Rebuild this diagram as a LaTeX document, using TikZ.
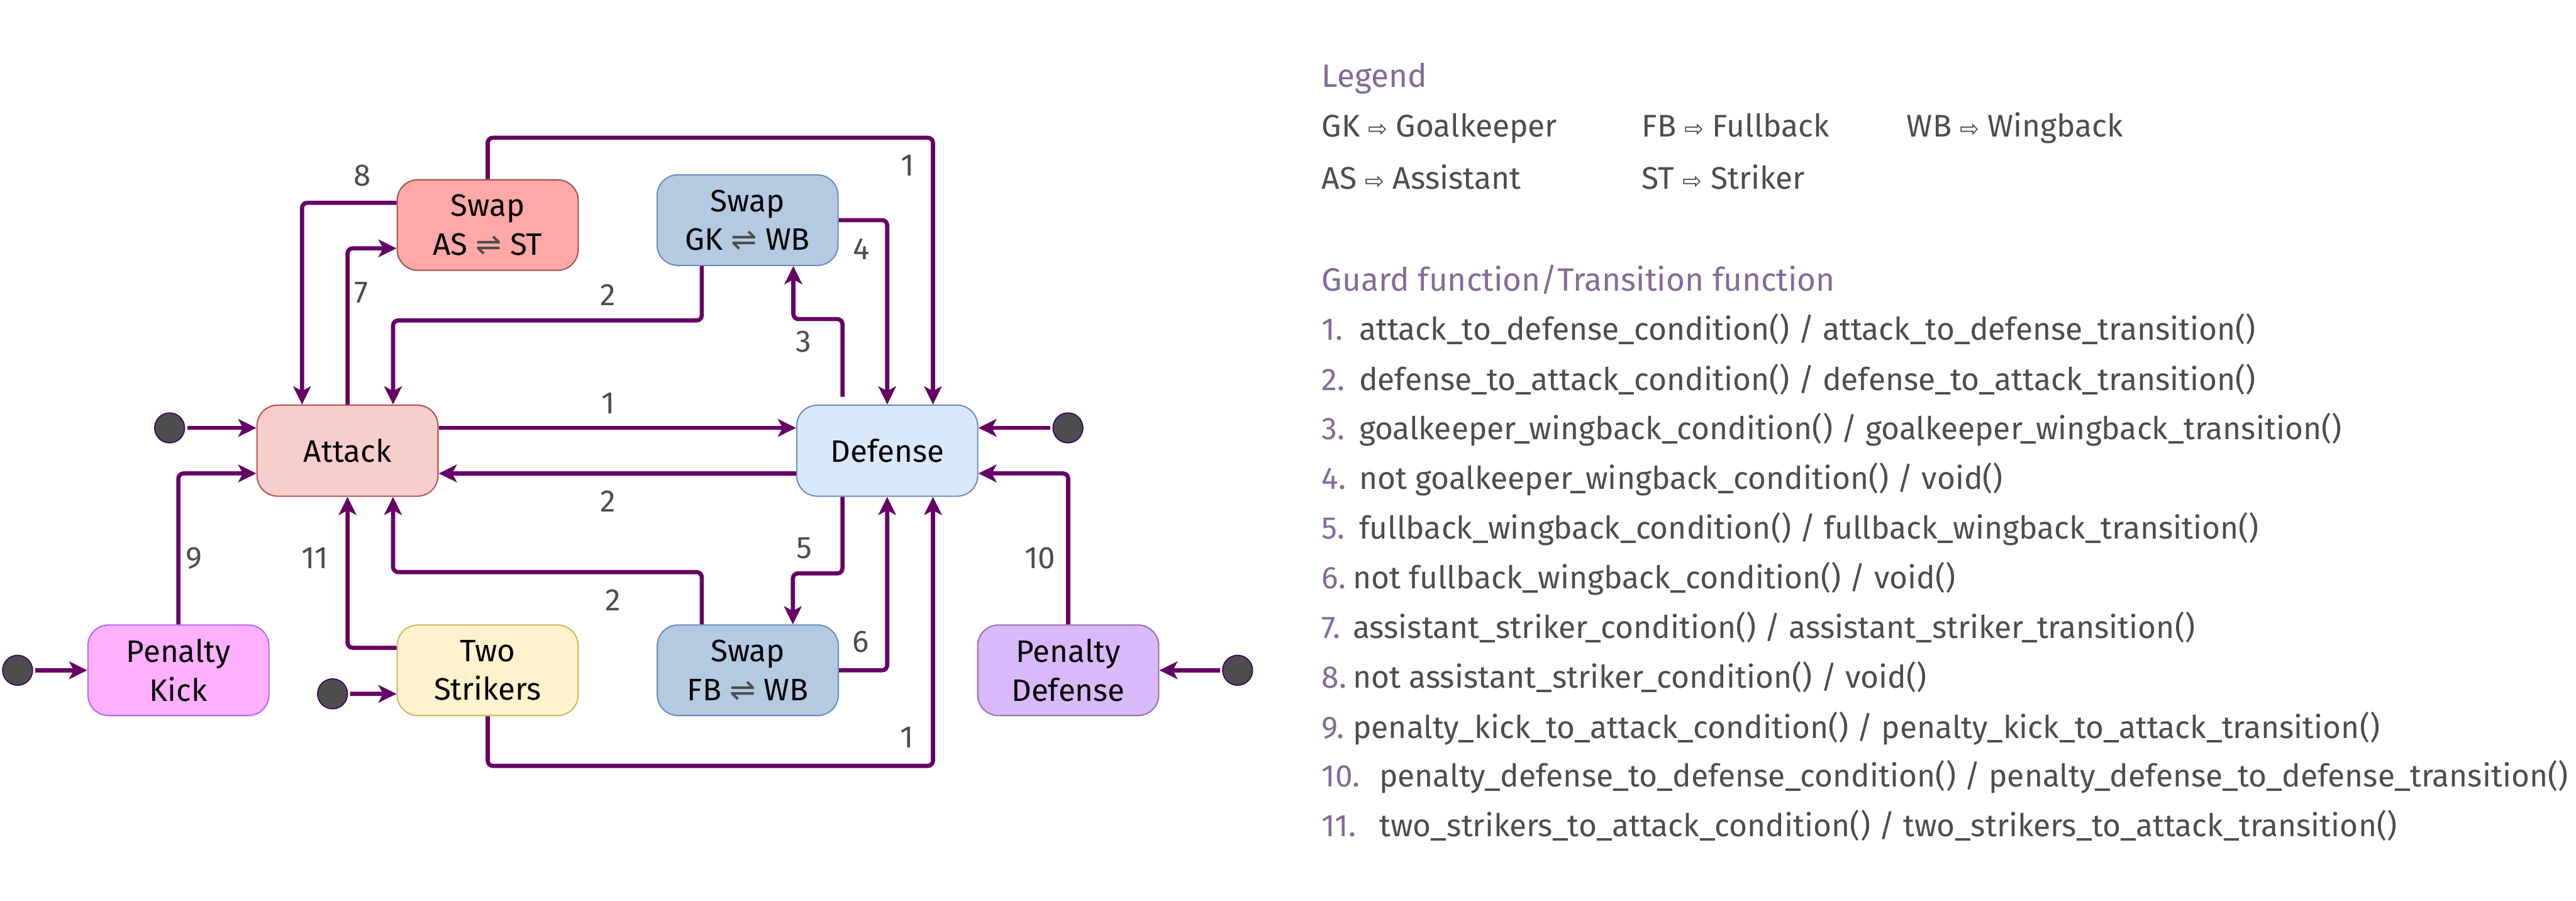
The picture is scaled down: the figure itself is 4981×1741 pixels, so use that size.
\documentclass[tikz,border=0pt]{standalone}
\usepackage{fontspec}
\setmainfont{Fira Sans}
\newfontfamily\symf{DejaVu Sans}
\usetikzlibrary{arrows.meta,calc}
\definecolor{arrowc}{HTML}{660066}
\definecolor{labelc}{HTML}{4D4D4D}
\definecolor{headc}{HTML}{866A98}
\definecolor{dotc}{HTML}{4D4D4D}
\definecolor{dotb}{HTML}{330066}
\definecolor{attackf}{HTML}{F8CECC}
\definecolor{attackd}{HTML}{B85450}
\definecolor{swapasf}{HTML}{FFA8A8}
\definecolor{swapasd}{HTML}{A65353}
\definecolor{defensef}{HTML}{DAE8FC}
\definecolor{blued}{HTML}{6C8EBF}
\definecolor{swapbf}{HTML}{B3CAE1}
\definecolor{twof}{HTML}{FFF2CC}
\definecolor{twod}{HTML}{D6B656}
\definecolor{pkf}{HTML}{FFB0FF}
\definecolor{pkd}{HTML}{B266FF}
\definecolor{pdfill}{HTML}{DAB9FB}
\definecolor{pdd}{HTML}{9673A6}
\tikzset{
  statebox/.style={draw, rounded corners=8pt, minimum width=70pt, minimum height=35pt,
    align=center, inner sep=0pt, line width=0.5pt, text=black,
    font=\fontsize{12}{15}\selectfont},
  conn/.style={draw=arrowc, line width=1.6pt, rounded corners=2pt,
    -{Stealth[length=7pt,width=6.8pt,inset=1.8pt]}},
  initconn/.style={conn, shorten <=0.8pt},
  lbl/.style={text=labelc, inner sep=0pt, font=\fontsize{12}{14}\selectfont},
  dotnode/.style={circle, fill=dotc, draw=dotb, line width=0.4pt, minimum size=11.6pt, inner sep=0pt},
  legh/.style={anchor=base west, inner sep=0pt, text=headc, font=\fontsize{12.5}{15}\selectfont},
  legt/.style={anchor=base west, inner sep=0pt, text=labelc, font=\fontsize{12.1}{15}\selectfont},
  legn/.style={anchor=base west, inner sep=0pt, text=headc, font=\fontsize{12.1}{15}\selectfont},
}
\newcommand{\swp}{{\symf\color{labelc}⇌}}
\newcommand{\imp}{{\symf\small ⇨}}
\begin{document}
\begin{tikzpicture}[x=0.2pt,y=-0.2pt]
\useasboundingbox (0,0) rectangle (4981,1741);
% states
\node[statebox, fill=attackf, draw=attackd, minimum height=35.2pt] (attack) at (672,871) {Attack};
\node[statebox, fill=defensef, draw=blued, minimum height=35.2pt] (defense) at (1715.5,871) {Defense};
\node[statebox, fill=swapasf, draw=swapasd] (swapas) at (943,435) {Swap\\AS \swp{} ST};
\node[statebox, fill=swapbf, draw=blued] (swapgk) at (1445.5,425.5) {Swap\\GK \swp{} WB};
\node[statebox, fill=swapbf, draw=blued] (swapfb) at (1446,1295.5) {Swap\\FB \swp{} WB};
\node[statebox, fill=twof, draw=twod] (two) at (943,1295.5) {Two\\Strikers};
\node[statebox, fill=pkf, draw=pkd] (pk) at (345,1295.5) {Penalty\\Kick};
\node[statebox, fill=pdfill, draw=pdd] (pd) at (2065.5,1295.5) {Penalty\\Defense};
% initial dots
\node[dotnode] (dot1) at (328,827) {};
\node[dotnode] (dot2) at (2065,827) {};
\node[dotnode] (dot3) at (34,1295.5) {};
\node[dotnode] (dot4) at (643,1341) {};
\node[dotnode] (dot5) at (2393,1295.5) {};
\draw[initconn] (dot1.east) -- ($(attack.west)+(0,-44)$);
\draw[initconn] (dot2.west) -- ($(defense.east)+(0,-44)$);
\draw[initconn] (dot3.east) -- (pk.west);
\draw[initconn] (dot4.east) -- ($(two.west)+(0,45.5)$);
\draw[initconn] (dot5.west) -- (pd.east);
% transitions
\draw[conn] ($(attack.east)+(0,-44)$) -- ($(defense.west)+(0,-44)$);
\draw[conn] ($(defense.west)+(0,44)$) -- ($(attack.east)+(0,44)$);
\draw[conn] (swapas.north) -- ++(0,-80) -| ($(defense.north)+(88.5,0)$);
\draw[conn] (two.south) -- ++(0,96) -| ($(defense.south)+(88.5,0)$);
\draw[conn] ($(swapgk.south)+(-88.5,0)$) -- ++(0,105) -| ($(attack.north)+(88,0)$);
\draw[conn] ($(swapfb.north)+(-89,0)$) -- ++(0,-101) -| ($(attack.south)+(88,0)$);
\draw[conn] ($(defense.north)+(-86.5,-15)$) -- ++(0,-150) -| ($(swapgk.south)+(88.5,0)$);
\draw[conn] (swapgk.east) -| (defense.north);
\draw[conn] ($(defense.south)+(-86.5,0)$) -- ++(0,148) -| ($(swapfb.north)+(87,0)$);
\draw[conn] (swapfb.east) -| (defense.south);
\draw[conn] (attack.north) |- ($(swapas.west)+(0,45)$);
\draw[conn] ($(swapas.west)+(0,-43)$) -| ($(attack.north)+(-88,0)$);
\draw[conn] (pk.north) |- ($(attack.west)+(0,44)$);
\draw[conn] (pd.north) |- ($(defense.east)+(0,44)$);
\draw[conn] ($(two.west)+(0,-43.5)$) -| (attack.south);
% labels
\node[lbl] (l8) at (701,339) {8};
\node[lbl] (l7) at (699,566) {7};
\node[lbl] (l2a) at (1175,570) {2};
\node[lbl] (l1a) at (1755,320) {1};
\node[lbl] (l4) at (1665,481) {4};
\node[lbl] (l3) at (1554,660) {3};
\node[lbl] (l1b) at (1176,780) {1};
\node[lbl] (l2b) at (1176,969) {2};
\node[lbl] (l5) at (1555,1059) {5};
\node[lbl] (l2c) at (1185,1160) {2};
\node[lbl] (l6) at (1664,1241) {6};
\node[lbl] (l1c) at (1754,1425) {1};
\node[lbl] (l9) at (375,1079) {9};
\node[lbl] (l11) at (609,1079) {11};
\node[lbl] (l10) at (2011,1079) {10};
% legend
\node[legh] (legend) at (2555,169) {Legend};
\node[legt] (gk) at (2555,264) {GK \imp{} Goalkeeper};
\node[legt] (fb) at (3174,264) {FB \imp{} Fullback};
\node[legt] (wb) at (3686,264) {WB \imp{} Wingback};
\node[legt] (as) at (2555,365) {AS \imp{} Assistant};
\node[legt] (st) at (3174,365) {ST \imp{} Striker};
\node[legh] (guard) at (2555,563) {Guard function/Transition function};
\node[legn] (n1) at (2555,657) {1.};
\node[legt] (t1) at (2627,657) {attack\_to\_defense\_condition() / attack\_to\_defense\_transition()};
\node[legn] (n2) at (2555,754) {2.};
\node[legt] (t2) at (2627,754) {defense\_to\_attack\_condition() / defense\_to\_attack\_transition()};
\node[legn] (n3) at (2555,850) {3.};
\node[legt] (t3) at (2627,850) {goalkeeper\_wingback\_condition() / goalkeeper\_wingback\_transition()};
\node[legn] (n4) at (2555,946) {4.};
\node[legt] (t4) at (2627,946) {not goalkeeper\_wingback\_condition() / void()};
\node[legn] (n5) at (2555,1042) {5.};
\node[legt] (t5) at (2627,1042) {fullback\_wingback\_condition() / fullback\_wingback\_transition()};
\node[legn] (n6) at (2555,1138) {6.};
\node[legt] (t6) at (2615,1138) {not fullback\_wingback\_condition() / void()};
\node[legn] (n7) at (2555,1234) {7.};
\node[legt] (t7) at (2615,1234) {assistant\_striker\_condition() / assistant\_striker\_transition()};
\node[legn] (n8) at (2555,1330) {8.};
\node[legt] (t8) at (2615,1330) {not assistant\_striker\_condition() / void()};
\node[legn] (n9) at (2555,1427) {9.};
\node[legt] (t9) at (2615,1427) {penalty\_kick\_to\_attack\_condition() / penalty\_kick\_to\_attack\_transition()};
\node[legn] (n10) at (2555,1521) {10.};
\node[legt] (t10) at (2666,1521) {penalty\_defense\_to\_defense\_condition() / penalty\_defense\_to\_defense\_transition()};
\node[legn] (n11) at (2555,1617) {11.};
\node[legt] (t11) at (2666,1617) {two\_strikers\_to\_attack\_condition() / two\_strikers\_to\_attack\_transition()};
\end{tikzpicture}
\end{document}
